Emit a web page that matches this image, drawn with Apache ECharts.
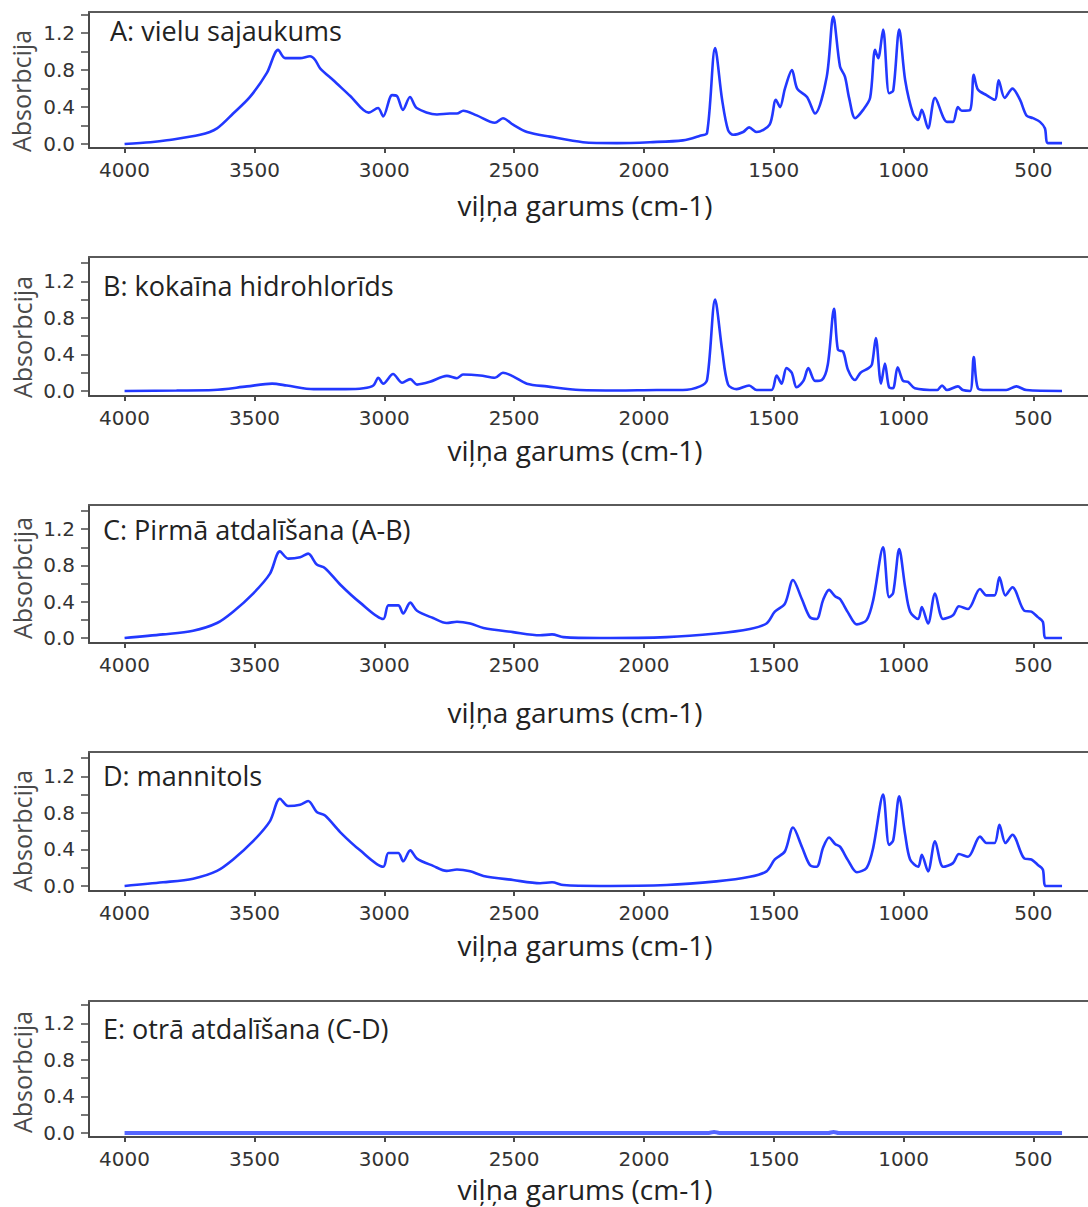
<!DOCTYPE html>
<html>
<head>
<meta charset="utf-8">
<script src="https://cdn.jsdelivr.net/npm/echarts@6/dist/echarts.min.js"></script>
<style>
html,body{margin:0;padding:0;background:#fff;}
#c{width:1088px;height:1207px;}
</style>
</head>
<body>
<div id="c"></div>
<script>
// ---------- data ----------
const panelTitles = ['A: vielu sajaukums', 'B: kokaīna hidrohlorīds', 'C: Pirmā atdalīšana (A-B)', 'D: mannitols', 'E: otrā atdalīšana (C-D)'];
const xAxisTitle = 'viļņa garums (cm-1)';
const yAxisTitle = 'Absorbcija';
const xTickValues = [4000, 3500, 3000, 2500, 2000, 1500, 1000, 500];
const yTickValues = [0, 0.2, 0.4, 0.6, 0.8, 1.0, 1.2, 1.4];
const yLabelValues = [0, 0.4, 0.8, 1.2];

const waveA = [4000,3900,3837,3709,3644,3582,3517,3452,3409,3382,3324,3286,3266,3247,3196,3131,3060,3024,3004,2970,2951,2928,2901,2875,2797,2747,2720,2696,2644,2574,2543,2504,2450,2362,2235,2104,1977,1850,1784,1757,1726,1699,1676,1656,1618,1595,1566,1516,1492,1476,1457,1430,1410,1372,1341,1296,1271,1245,1226,1210,1187,1156,1129,1110,1098,1079,1056,1040,1017,994,964,944,930,906,879,833,810,791,776,744,730,714,681,649,634,611,581,552,527,502,475,456,444,390];
const absA  = [0,0.02,0.04,0.10,0.17,0.33,0.51,0.77,1.02,0.93,0.93,0.95,0.91,0.82,0.69,0.52,0.34,0.39,0.30,0.53,0.52,0.37,0.51,0.39,0.32,0.33,0.33,0.36,0.31,0.23,0.28,0.21,0.13,0.08,0.02,0.01,0.02,0.04,0.09,0.12,1.04,0.48,0.15,0.10,0.13,0.18,0.13,0.21,0.48,0.40,0.60,0.80,0.60,0.51,0.33,0.73,1.38,0.84,0.73,0.50,0.28,0.37,0.50,1.02,0.93,1.24,0.55,0.58,1.24,0.69,0.33,0.26,0.37,0.17,0.50,0.24,0.24,0.40,0.36,0.37,0.75,0.59,0.53,0.48,0.69,0.50,0.60,0.48,0.31,0.28,0.24,0.17,0.01,0.01];

const waveB = [4000,3800,3658,3529,3432,3375,3272,3150,3080,3042,3023,3004,2966,2931,2900,2874,2824,2759,2720,2697,2631,2574,2543,2504,2451,2374,2246,2100,1950,1850,1784,1757,1726,1699,1676,1643,1595,1566,1509,1489,1470,1451,1431,1412,1386,1367,1341,1315,1292,1268,1253,1233,1214,1187,1166,1135,1122,1107,1087,1072,1056,1041,1023,1002,983,957,871,852,833,791,772,744,730,714,682,605,566,527,390];
const absB  = [0,0.005,0.01,0.05,0.08,0.06,0.02,0.02,0.03,0.06,0.145,0.08,0.185,0.09,0.13,0.07,0.10,0.165,0.14,0.18,0.17,0.145,0.20,0.16,0.08,0.05,0.01,0.005,0.01,0.01,0.05,0.12,1.0,0.45,0.07,0.02,0.06,0.01,0.01,0.17,0.08,0.25,0.20,0.04,0.11,0.25,0.11,0.12,0.29,0.90,0.45,0.43,0.23,0.12,0.20,0.25,0.29,0.58,0.08,0.30,0.04,0.03,0.26,0.11,0.10,0.03,0.01,0.06,0.01,0.05,0.01,0.0,0.37,0.03,0.01,0.01,0.05,0.01,0.0];

const waveC = [4000,3852,3736,3644,3582,3505,3440,3402,3370,3324,3293,3260,3228,3170,3093,3004,2984,2946,2927,2900,2874,2812,2760,2720,2669,2618,2504,2400,2354,2310,2169,1913,1721,1592,1528,1496,1457,1426,1392,1361,1335,1310,1287,1264,1245,1214,1180,1142,1117,1079,1056,1040,1017,994,975,944,930,906,879,848,810,787,752,706,681,650,631,608,581,535,508,483,464,452,390];
const absC  = [0,0.04,0.08,0.165,0.29,0.49,0.71,0.955,0.875,0.89,0.93,0.81,0.77,0.59,0.39,0.21,0.36,0.36,0.27,0.39,0.30,0.22,0.165,0.18,0.16,0.11,0.065,0.03,0.04,0.01,0.0,0.01,0.05,0.10,0.16,0.29,0.38,0.64,0.43,0.23,0.21,0.42,0.53,0.46,0.43,0.28,0.15,0.20,0.42,1.0,0.45,0.50,0.98,0.56,0.29,0.21,0.34,0.16,0.49,0.21,0.25,0.35,0.32,0.54,0.47,0.47,0.67,0.47,0.56,0.30,0.29,0.23,0.18,0.0,0.0];

const waveD = [4000,3852,3736,3644,3582,3505,3440,3402,3370,3324,3293,3260,3228,3170,3093,3004,2984,2946,2927,2900,2874,2812,2760,2720,2669,2618,2504,2400,2354,2310,2169,1913,1721,1592,1528,1496,1457,1426,1392,1361,1335,1310,1287,1264,1245,1214,1180,1142,1117,1079,1056,1040,1017,994,975,944,930,906,879,848,810,787,752,706,681,650,631,608,581,535,508,483,464,452,390];
const absD  = [0,0.04,0.08,0.165,0.29,0.49,0.71,0.955,0.875,0.89,0.93,0.81,0.77,0.59,0.39,0.21,0.36,0.36,0.27,0.39,0.30,0.22,0.165,0.18,0.16,0.11,0.065,0.03,0.04,0.01,0.0,0.01,0.05,0.10,0.16,0.29,0.38,0.64,0.43,0.23,0.21,0.42,0.53,0.46,0.43,0.28,0.15,0.20,0.42,1.0,0.45,0.50,0.98,0.56,0.29,0.21,0.34,0.16,0.49,0.21,0.25,0.35,0.32,0.54,0.47,0.47,0.67,0.47,0.56,0.30,0.29,0.23,0.18,0.0,0.0];

const waveE = [4000,1750,1730,1710,1290,1270,1250,390];
const absE  = [0,0,0.012,0,0,0.01,0,0];

// ---------- layout / style ----------
const waves = [waveA, waveB, waveC, waveD, waveE];
const abss = [absA, absB, absC, absD, absE];
const gridTops = [12, 257, 505, 752, 1001];
const gridHeights = [136, 139, 138, 139, 136];
const yMins = [-0.043, -0.055, -0.055, -0.055, -0.044];
const yMaxs = [1.43, 1.466, 1.466, 1.466, 1.444];
const titlePos = [[110, 30], [103, 285], [103, 529], [103, 775], [103, 1028]];
const xNamePos = [[585, 205], [575, 450], [575, 712], [585, 945], [585, 1189]];
const yNamePos = [[21, 91], [22, 337], [22, 578], [22, 831], [22, 1072]];
const lineColors = ['#2238ff', '#2238ff', '#2238ff', '#2238ff', '#5566ff'];
const lineWidths = [2.6, 2.6, 2.6, 2.6, 4];

const axisColor = '#4a4a4a';
const grids = [], xAxes = [], yAxes = [], series = [], graphics = [];

for (let i = 0; i < 5; i++) {
  grids.push({ left: 89, right: 0, top: gridTops[i], height: gridHeights[i], show: false });
  // bottom axis
  xAxes.push({
    type: 'value', gridIndex: i, inverse: true, min: 290, max: 4137, position: 'bottom',
    axisLine: { show: true, onZero: false, lineStyle: { color: axisColor, width: 2 } },
    axisTick: { show: true, length: 5, customValues: xTickValues, lineStyle: { color: axisColor, width: 2 } },
    axisLabel: { show: true, customValues: xTickValues, margin: 12, color: '#333', fontSize: 20, fontFamily: 'DejaVu Sans',
      formatter: v => String(Math.round(v)) },
    splitLine: { show: false }
  });
  // top frame line
  xAxes.push({
    type: 'value', gridIndex: i, inverse: true, min: 290, max: 4137, position: 'top',
    axisLine: { show: true, onZero: false, lineStyle: { color: '#5a5a5a', width: 2 } },
    axisTick: { show: false }, axisLabel: { show: false }, splitLine: { show: false }
  });
  yAxes.push({
    type: 'value', gridIndex: i, min: yMins[i], max: yMaxs[i],
    axisLine: { show: true, onZero: false, lineStyle: { color: axisColor, width: 2 } },
    axisTick: { show: true, length: 8, customValues: yTickValues, lineStyle: { color: axisColor, width: 1.5 } },
    axisLabel: { show: true, customValues: yLabelValues, margin: 14, color: '#333', fontSize: 20, fontFamily: 'DejaVu Sans',
      formatter: v => Number(v).toFixed(1) },
    splitLine: { show: false }
  });
  series.push({
    type: 'line', xAxisIndex: 2 * i, yAxisIndex: i,
    data: waves[i].map((w, k) => [w, abss[i][k]]),
    showSymbol: false, smooth: 0.3, silent: true,
    lineStyle: { color: lineColors[i], width: lineWidths[i] },
    animation: false
  });
  graphics.push({
    type: 'text', x: titlePos[i][0], y: titlePos[i][1],
    style: { text: panelTitles[i], fill: '#222', font: '27px "Open Sans"', align: 'left', verticalAlign: 'middle' }
  });
  graphics.push({
    type: 'text', x: xNamePos[i][0], y: xNamePos[i][1],
    style: { text: xAxisTitle, fill: '#222', font: '28px "Open Sans"', align: 'center', verticalAlign: 'middle' }
  });
  graphics.push({
    type: 'text', x: yNamePos[i][0], y: yNamePos[i][1], rotation: Math.PI / 2,
    style: { text: yAxisTitle, fill: '#4a4a4a', font: '25px "Open Sans"', align: 'center', verticalAlign: 'middle' }
  });
}

const chart = echarts.init(document.getElementById('c'), null, { renderer: 'svg' });
chart.setOption({
  animation: false,
  backgroundColor: '#fff',
  grid: grids,
  xAxis: xAxes,
  yAxis: yAxes,
  series: series,
  graphic: graphics
});
</script>
</body>
</html>
